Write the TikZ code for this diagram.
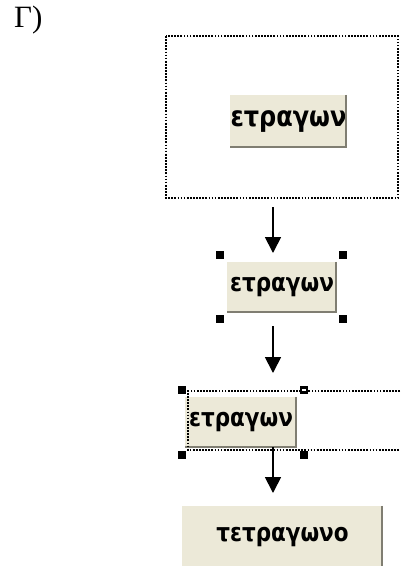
\documentclass[tikz,border=0pt]{standalone}
\usepackage{fontspec}
\usepackage{graphicx}
\setmainfont{Liberation Serif}
\newfontfamily\btnfont{DejaVu Sans}
\usetikzlibrary{arrows.meta}
\definecolor{btnface}{HTML}{ECE9D8}
\definecolor{btnshadow}{HTML}{807E72}
\definecolor{btnlight}{HTML}{FFFFFF}
\newcommand{\bevelbtn}[1]{%
  \draw[btnlight,line width=1.2pt] (#1.south west) -- (#1.north west) -- (#1.north east);
  \draw[btnshadow,line width=2.2pt] ([xshift=-1pt]#1.north east) -- ([xshift=-1pt,yshift=1pt]#1.south east) -- ([yshift=1pt]#1.south west);}
\newcommand{\btntext}[1]{\scalebox{1}[1.18]{#1}}
\tikzset{
  btn/.style={fill=btnface, inner sep=0pt, font=\btnfont\bfseries\fontsize{21.5}{24}\selectfont, text=black},
  dotbox/.style={line width=1.7pt, dash pattern=on 1.7pt off 1.4pt, black},
  handle/.style={fill=black, draw=none, minimum size=8pt, inner sep=0pt, rectangle},
  flow/.style={line width=1.8pt, -{Triangle[width=16pt,length=16pt]}},
}
\begin{document}
\begin{tikzpicture}[x=1pt,y=-1pt]
\useasboundingbox (0,0) rectangle (400,566);
\fill[white] (0,0) rectangle (400,566);
% label
\node[anchor=north west, inner sep=0pt, font=\fontsize{31}{33}\selectfont] (lbl) at (14,6) {Γ)};
% box 1
\draw[dotbox] (166,36) rectangle (398,198);
\node[btn, minimum width=117pt, minimum height=53pt, font=\btnfont\bfseries\fontsize{24}{26}\selectfont] (b1) at (288.5,121.5) {\btntext{ετραγων}};
\bevelbtn{b1}
% button 2
\node[btn, minimum width=110pt, minimum height=51pt] (b2) at (282,287.5) {\btntext{ετραγων}};
\bevelbtn{b2}
\foreach \p/\q in {220/255,343/255,220/319,343/319}{\node[handle] at (\p,\q) {};}
% button 3
\node[btn, minimum width=112pt, minimum height=51pt] (b3) at (241,422.5) {\btntext{ετραγων}};
\bevelbtn{b3}
\draw[dotbox] (400,391) -- (188,391) -- (188,450) -- (400,450);
\node[handle] (h31) at (182,390) {};
\node[handle] (h32) at (304,390) {};
\fill[white] (302,389.2) rectangle (306,390.8);
\node[handle] (h33) at (182,455) {};
\node[handle] (h34) at (304,455) {};
% button 4
\node[btn, minimum width=201pt, minimum height=62pt] (b4) at (282.5,537) {\btntext{τετραγωνο}};
\bevelbtn{b4}
% arrows
\coordinate (a1s) at (273,207); \coordinate (a1e) at (273,253);
\coordinate (a2s) at (273,326); \coordinate (a2e) at (273,373);
\coordinate (a3s) at (273,447); \coordinate (a3e) at (273,493);
\draw[flow] (a1s) -- (a1e);
\draw[flow] (a2s) -- (a2e);
\draw[flow] (a3s) -- (a3e);
\end{tikzpicture}
\end{document}
